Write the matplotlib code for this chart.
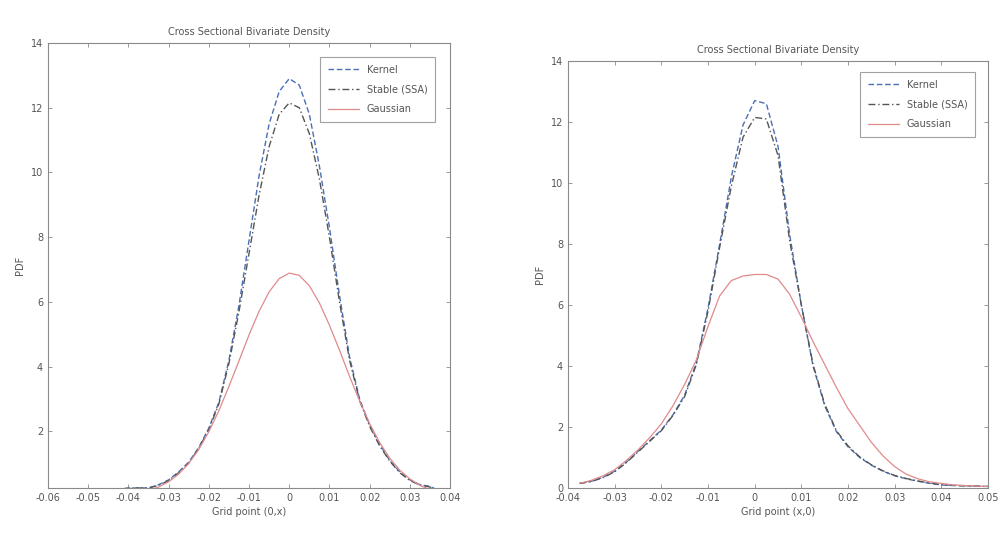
import matplotlib
matplotlib.use("Agg")
import matplotlib.pyplot as plt

plt.rcParams['font.family'] = ['DejaVu Sans']

# ---------------- data: left panel ----------------
left_x = [-0.045, -0.0425, -0.04, -0.0375, -0.035, -0.0325, -0.03, -0.0275, -0.025,
          -0.0225, -0.02, -0.0175, -0.015, -0.0125, -0.01, -0.0075, -0.005, -0.0025,
          0.0, 0.0025, 0.005, 0.0075, 0.01, 0.0125, 0.015, 0.0175, 0.02, 0.0225,
          0.025, 0.0275, 0.03, 0.0325, 0.035, 0.0375]
left_kernel = [0.15, 0.22, 0.25, 0.25, 0.25, 0.35, 0.5, 0.75, 1.05,
               1.5, 2.1, 2.9, 4.2, 5.9, 7.9, 9.9, 11.5, 12.5,
               12.9, 12.7, 11.8, 10.2, 8.3, 6.2, 4.3, 3.0, 2.2, 1.6,
               1.1, 0.75, 0.5, 0.35, 0.3, 0.15]
left_stable = [0.15, 0.2, 0.24, 0.25, 0.25, 0.33, 0.48, 0.72, 1.02,
               1.48, 2.05, 2.85, 4.1, 5.7, 7.5, 9.3, 10.8, 11.8,
               12.15, 12.0, 11.2, 9.8, 8.0, 6.0, 4.2, 2.95, 2.15, 1.55,
               1.08, 0.72, 0.48, 0.34, 0.28, 0.15]
left_gauss = [0.02, 0.03, 0.05, 0.10, 0.17, 0.28, 0.44, 0.68, 1.01,
              1.44, 1.99, 2.64, 3.39, 4.18, 4.98, 5.71, 6.31, 6.72,
              6.89, 6.82, 6.50, 5.97, 5.28, 4.51, 3.70, 2.94, 2.24, 1.65,
              1.17, 0.80, 0.53, 0.33, 0.20, 0.12]

# ---------------- data: right panel ----------------
right_x = [-0.0375, -0.035, -0.0325, -0.03, -0.0275, -0.025, -0.0225, -0.02, -0.0175,
           -0.015, -0.0125, -0.01, -0.0075, -0.005, -0.0025, 0.0, 0.0025, 0.005,
           0.0075, 0.01, 0.0125, 0.015, 0.0175, 0.02, 0.0225, 0.025, 0.0275, 0.03,
           0.0325, 0.035, 0.0375, 0.04, 0.0425, 0.045, 0.0475, 0.05]
right_kernel = [0.15, 0.22, 0.35, 0.55, 0.85, 1.2, 1.55, 1.9, 2.4,
                3.05, 4.1, 5.9, 8.0, 10.2, 11.9, 12.7, 12.6, 11.2,
                8.3, 6.0, 4.0, 2.7, 1.85, 1.35, 1.0, 0.75, 0.55, 0.4,
                0.3, 0.22, 0.15, 0.1, 0.08, 0.07, 0.06, 0.05]
right_stable = [0.15, 0.21, 0.34, 0.53, 0.83, 1.18, 1.53, 1.88, 2.38,
                3.0, 4.05, 5.8, 7.9, 9.9, 11.5, 12.15, 12.1, 10.9,
                8.1, 6.0, 4.05, 2.75, 1.88, 1.38, 1.02, 0.76, 0.56, 0.41,
                0.31, 0.23, 0.16, 0.11, 0.09, 0.07, 0.06, 0.05]
right_gauss = [0.15, 0.25, 0.4, 0.6, 0.9, 1.25, 1.65, 2.1, 2.7,
               3.4, 4.2, 5.3, 6.3, 6.8, 6.95, 7.0, 7.0, 6.85,
               6.35, 5.6, 4.8, 4.05, 3.3, 2.6, 2.05, 1.5, 1.05, 0.7,
               0.45, 0.3, 0.2, 0.15, 0.1, 0.08, 0.06, 0.05]

labels = ["Kernel", "Stable (SSA)", "Gaussian"]
title = "Cross Sectional Bivariate Density"

left_xticks = [-0.06, -0.05, -0.04, -0.03, -0.02, -0.01, 0, 0.01, 0.02, 0.03, 0.04]
left_xticklabels = ["-0.06", "-0.05", "-0.04", "-0.03", "-0.02", "-0.01", "0",
                    "0.01", "0.02", "0.03", "0.04"]
left_yticks = [2, 4, 6, 8, 10, 12, 14]
right_xticks = [-0.04, -0.03, -0.02, -0.01, 0, 0.01, 0.02, 0.03, 0.04, 0.05]
right_xticklabels = ["-0.04", "-0.03", "-0.02", "-0.01", "0", "0.01", "0.02",
                     "0.03", "0.04", "0.05"]
right_yticks = [0, 2, 4, 6, 8, 10, 12, 14]

TXT = "#555555"
SPINE = "#8a8a8a"

fig = plt.figure(figsize=(10.05, 5.35), dpi=100)
ax1 = fig.add_axes([0.0478, 0.0879, 0.400, 0.8317])
ax2 = fig.add_axes([0.5652, 0.0879, 0.4179, 0.7981])


def style(ax, x, k, s, g, xticks, xtl, yticks, xlim, ylim, xlabel, leg_anchor):
    ax.plot(x, k, color="#4a6fb5", linestyle=(0, (4, 2)), linewidth=1.0, label=labels[0])
    ax.plot(x, s, color="#555555", linestyle=(0, (5, 2, 1, 2)), linewidth=1.0, label=labels[1])
    ax.plot(x, g, color="#e08a8a", linestyle="-", linewidth=0.9, label=labels[2])
    ax.set_xlim(*xlim)
    ax.set_ylim(*ylim)
    ax.set_xticks(xticks)
    ax.set_xticklabels(xtl)
    ax.set_yticks(yticks)
    ax.tick_params(direction="in", top=True, right=True, length=3, width=0.6,
                   colors=SPINE, labelcolor=TXT, labelsize=7)
    for sp in ax.spines.values():
        sp.set_color(SPINE)
        sp.set_linewidth(0.8)
    ax.set_title(title, fontsize=7, color=TXT, pad=6)
    ax.set_xlabel(xlabel, fontsize=7, color=TXT, labelpad=3)
    ax.set_ylabel("PDF", fontsize=7, color=TXT, labelpad=4)
    leg = ax.legend(loc="upper right", bbox_to_anchor=leg_anchor, fontsize=7,
                    frameon=True, fancybox=False, handlelength=3.2,
                    labelspacing=1.0, borderpad=0.8, handletextpad=0.8)
    leg.get_frame().set_edgecolor(SPINE)
    leg.get_frame().set_linewidth(0.8)
    for t in leg.get_texts():
        t.set_color(TXT)


style(ax1, left_x, left_kernel, left_stable, left_gauss, left_xticks, left_xticklabels,
      left_yticks, (-0.06, 0.04), (0.25, 14), "Grid point (0,x)", (0.975, 0.98))
style(ax2, right_x, right_kernel, right_stable, right_gauss, right_xticks, right_xticklabels,
      right_yticks, (-0.04, 0.05), (0, 14), "Grid point (x,0)", (0.981, 0.986))

fig.savefig("out.png", dpi=100)
